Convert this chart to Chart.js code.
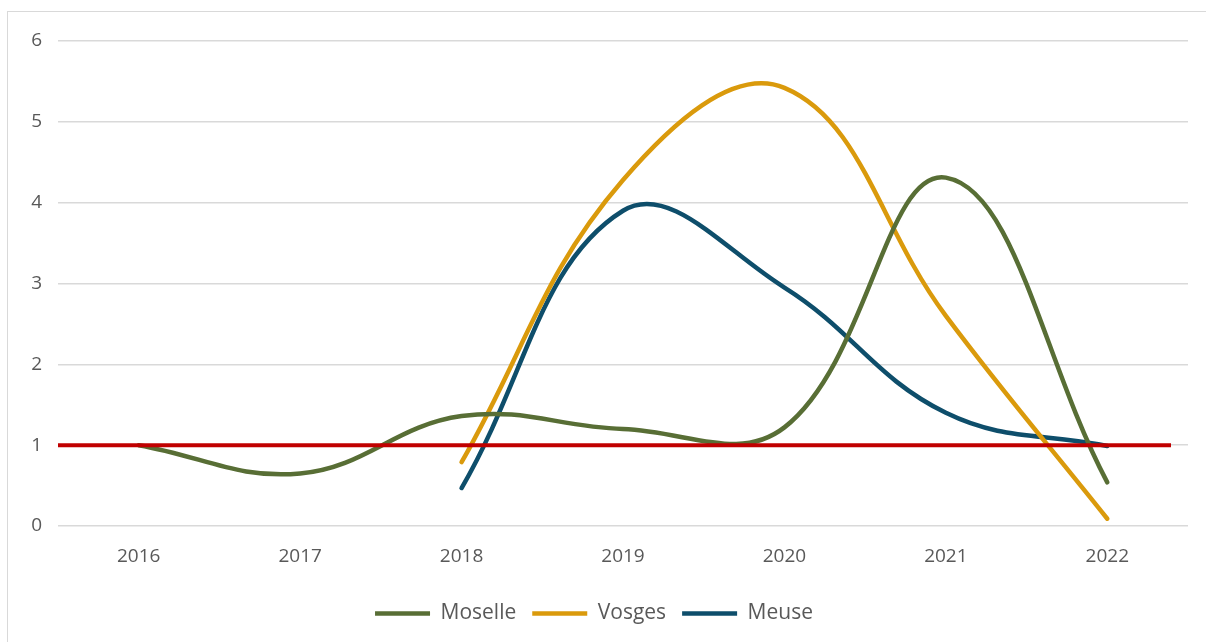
<!DOCTYPE html>
<html>
<head>
<meta charset="utf-8">
<script src="https://cdn.jsdelivr.net/npm/chart.js@4.4.1/dist/chart.umd.min.js"></script>
<style>
  html, body { margin: 0; padding: 0; background: #fff; overflow: hidden; }
  #frame { position: absolute; left: 7px; top: 11px; width: 1400px; height: 800px;
           border: 1px solid #d9d9d9; box-sizing: border-box; }
  #wrap { position: absolute; left: 0; top: 0; width: 1206px; height: 642px; }
</style>
</head>
<body>
<div id="frame"></div>
<div id="wrap"><canvas id="chart"></canvas></div>
<script>
const years = ['2016', '2017', '2018', '2019', '2020', '2021', '2022'];
const moselle = [1.0, 0.65, 1.36, 1.2, 1.22, 4.31, 0.54];
const vosges = [null, null, 0.79, 4.28, 5.42, 2.6, 0.09];
const meuse = [null, null, 0.47, 3.9, 2.95, 1.4, 0.99];
const referenceLevel = 1;

const FONT = "'Open Sans', 'Noto Sans', sans-serif";

// Horizontal red reference line at the target level
const referenceLine = {
  id: 'referenceLine',
  afterDatasetsDraw(chart) {
    const { ctx, chartArea, scales } = chart;
    const y = scales.y.getPixelForValue(referenceLevel);
    ctx.save();
    ctx.strokeStyle = '#C00000';
    ctx.lineWidth = 4;
    ctx.beginPath();
    ctx.moveTo(chartArea.left, y);
    ctx.lineTo(chartArea.right - 17, y);
    ctx.stroke();
    ctx.restore();
  }
};

const lineStyle = (color) => ({
  borderColor: color,
  backgroundColor: color,
  borderWidth: 4.5,
  borderCapStyle: 'round',
  borderJoinStyle: 'round',
  pointRadius: 0,
  pointHoverRadius: 0,
  tension: 0.4,
  fill: false,
  spanGaps: false
});

new Chart(document.getElementById('chart'), {
  type: 'line',
  data: {
    labels: years,
    datasets: [
      { label: 'Moselle', data: moselle, ...lineStyle('#586E35') },
      { label: 'Vosges', data: vosges, ...lineStyle('#DA9A0C') },
      { label: 'Meuse', data: meuse, ...lineStyle('#0E4E6B') }
    ]
  },
  options: {
    responsive: true,
    maintainAspectRatio: false,
    animation: false,
    layout: { padding: { top: 41, right: 18, left: 0, bottom: 8 } },
    plugins: {
      legend: {
        position: 'bottom',
        labels: {
          usePointStyle: true,
          pointStyle: 'line',
          pointStyleWidth: 55,
          padding: 16,
          color: '#595959',
          font: { family: FONT, size: 21 }
        }
      },
      tooltip: { enabled: false }
    },
    scales: {
      x: {
        offset: true,
        grid: { display: false },
        border: { display: false },
        ticks: { color: '#595959', font: { family: FONT, size: 19 }, padding: 11 },
        afterFit(scale) { scale.height = 61; }
      },
      y: {
        min: 0,
        max: 6,
        ticks: { stepSize: 1, color: '#595959', font: { family: FONT, size: 19 }, padding: 16 },
        grid: { color: '#d9d9d9', lineWidth: 1.5, drawTicks: false },
        border: { display: false },
        afterFit(scale) { scale.width = 58; }
      }
    }
  },
  plugins: [referenceLine]
});
</script>
</body>
</html>
